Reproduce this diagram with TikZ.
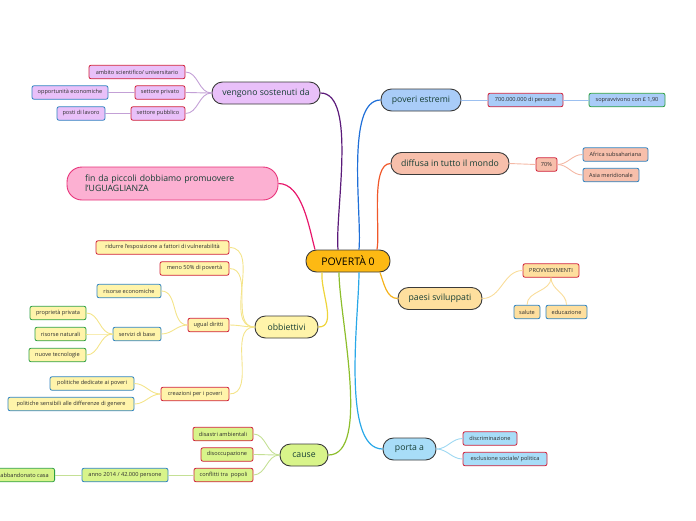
\documentclass[tikz,border=0pt]{standalone}
\usepackage{fontspec}
\setmainfont{Open Sans}
\usetikzlibrary{calc}
\definecolor{mainborder}{HTML}{3A3A3A}
\definecolor{maintext}{HTML}{173F35}
\definecolor{subtext}{HTML}{2E2E2E}
\definecolor{redb}{HTML}{D0213A}
\definecolor{blueb}{HTML}{2F83C0}
\definecolor{greenb}{HTML}{2EA043}
\definecolor{cfill}{HTML}{FDB913}
\definecolor{vfill}{HTML}{E9C0F9}
\definecolor{vline}{HTML}{5B1A7A}
\definecolor{vsub}{HTML}{C3A0D6}
\definecolor{pefill}{HTML}{A9CCF8}
\definecolor{peline}{HTML}{1F6FD8}
\definecolor{pesub}{HTML}{9CC0F0}
\definecolor{dfill}{HTML}{F7BFAB}
\definecolor{dline}{HTML}{F0582A}
\definecolor{dsub}{HTML}{F4B8A5}
\definecolor{ffill}{HTML}{FCB0D2}
\definecolor{fborder}{HTML}{E8337A}
\definecolor{fline}{HTML}{E8186C}
\definecolor{psfill}{HTML}{FEDF9E}
\definecolor{psline}{HTML}{F5B21B}
\definecolor{pssub}{HTML}{F9DD9A}
\definecolor{ofill}{HTML}{FFF4AA}
\definecolor{oline}{HTML}{EED43A}
\definecolor{osub}{HTML}{F4E48A}
\definecolor{cafill}{HTML}{D8F48A}
\definecolor{caline}{HTML}{8DBE2C}
\definecolor{casub}{HTML}{C4E095}
\definecolor{pafill}{HTML}{A8DDF8}
\definecolor{paline}{HTML}{29A8E8}
\definecolor{pasub}{HTML}{9ED8F2}
\tikzset{
  mainnode/.style={draw=mainborder, line width=0.9pt, rounded corners=10.5pt, minimum height=22pt, inner xsep=4pt, inner ysep=0pt, font=\fontsize{8.7}{10}\selectfont, text=maintext},
  subnode/.style={line width=0.8pt, rounded corners=2pt, minimum height=13.5pt, inner xsep=2pt, inner ysep=0pt, font=\fontsize{5.6}{6}\selectfont, text=subtext},
  rb/.style={draw=redb}, bb/.style={draw=blueb}, gb/.style={draw=greenb},
  mainline/.style={line width=1.2pt},
  subline/.style={line width=0.9pt},
}
\begin{document}
\begin{tikzpicture}[x=1pt,y=-1pt]
\useasboundingbox (0,0) rectangle (696,520);
\clip (0,0) rectangle (696,520);
% center
\node[mainnode, fill=cfill, text=black, minimum width=84pt, font=\fontsize{10.5}{12}\selectfont] (c) at (348,261) {POVERTÀ 0};
% main branches
\node[mainnode, fill=vfill, minimum width=108pt] (v) at (266,93) {vengono sostenuti da};
\node[mainnode, fill=pefill, minimum width=80pt] (pe) at (421,100) {poveri estremi};
\node[mainnode, fill=dfill, minimum width=118pt] (d) at (450,163.5) {diffusa in tutto il mondo};
\node[mainnode, draw=fborder, fill=ffill, rounded corners=15pt, minimum height=33pt, text width=175pt, align=left, inner xsep=18pt] (f) at (172.5,183.5) {fin da piccoli dobbiamo promuovere\\l'UGUAGLIANZA};
\node[mainnode, fill=psfill, minimum width=84pt] (ps) at (440,298.5) {paesi sviluppati};
\node[mainnode, fill=ofill, minimum width=63pt] (o) at (286.5,327) {obbiettivi};
\node[mainnode, fill=cafill, minimum width=48pt] (ca) at (304,455) {cause};
\node[mainnode, fill=pafill, minimum width=53pt] (pa) at (409.5,449) {porta a};
% main connectors
\draw[mainline, vline] (v.east) to[out=0,in=95,looseness=0.6] ([xshift=-10pt]c.north);
\draw[mainline, peline] (pe.west) to[out=180,in=85,looseness=0.6] ([xshift=11pt]c.north);
\draw[mainline, dline] (d.west) to[out=180,in=80,looseness=0.6] ([xshift=29pt]c.north);
\draw[mainline, fline] (f.east) to[out=0,in=105,looseness=0.8] ([xshift=-33pt]c.north);
\draw[mainline, psline] ([xshift=32pt]c.south) to[out=-70,in=180,looseness=0.9] (ps.west);
\draw[mainline, oline] ([xshift=-26pt]c.south) to[out=-95,in=0,looseness=0.9] (o.east);
\draw[mainline, caline] ([xshift=-9pt]c.south) to[out=-90,in=0,looseness=0.6] (ca.east);
\draw[mainline, paline] ([xshift=11pt]c.south) to[out=-90,in=180,looseness=0.6] (pa.west);
% vengono sostenuti da
\node[subnode, rb, fill=vfill, minimum width=96pt] (v1) at (137,72) {ambito scientifico/ universitario};
\node[subnode, rb, fill=vfill, minimum width=50pt] (v2) at (160,92.5) {settore privato};
\node[subnode, bb, fill=vfill, minimum width=76pt] (v21) at (70,92.5) {opportunità economiche};
\node[subnode, rb, fill=vfill, minimum width=54pt] (v3) at (158,113.5) {settore pubblico};
\node[subnode, bb, fill=vfill, minimum width=48pt] (v31) at (81,113.5) {posti di lavoro};
\foreach \n in {v1,v2,v3} \draw[subline, vsub] (v.west) to[out=180,in=0] (\n.east);
\draw[subline, vsub] (v2.west) -- (v21.east);
\draw[subline, vsub] (v3.west) -- (v31.east);
% poveri estremi
\node[subnode, rb, fill=pefill, minimum width=75pt] (pe1) at (525.5,100) {700.000.000 di persone};
\node[subnode, gb, fill=pefill, minimum width=76pt] (pe2) at (627,100) {sopravvivono con £ 1,90};
\draw[subline, pesub] (pe.east) -- (pe1.west);
\draw[subline, pesub] (pe1.east) -- (pe2.west);
% diffusa
\node[subnode, rb, fill=dfill, minimum width=21pt] (d1) at (546.5,164.5) {70\%};
\node[subnode, bb, fill=dfill, minimum width=65pt] (d2) at (615.5,154.5) {Africa subsahariana};
\node[subnode, bb, fill=dfill, minimum width=56pt] (d3) at (611,175) {Asia meridionale};
\draw[subline, dsub] (d.east) -- (d1.west);
\draw[subline, dsub] (d1.east) to[out=0,in=180] (d2.west);
\draw[subline, dsub] (d1.east) to[out=0,in=180] (d3.west);
% paesi sviluppati
\node[subnode, rb, fill=psfill, minimum width=56pt] (ps1) at (551,270.5) {PROVVEDIMENTI};
\node[subnode, bb, fill=psfill, minimum width=26pt] (ps2) at (527,312) {salute};
\node[subnode, bb, fill=psfill, minimum width=41pt] (ps3) at (566.5,312) {educazione};
\draw[subline, pssub] (ps.east) to[out=0,in=180] (ps1.west);
\draw[subline, pssub] (ps1.south) to[out=-90,in=90] (ps2.north);
\draw[subline, pssub] (ps1.south) to[out=-90,in=90] (ps3.north);
% obbiettivi
\node[subnode, rb, fill=ofill, minimum width=133pt] (o1) at (162.5,247.5) {ridurre l'esposizione a fattori di vulnerabilità};
\node[subnode, rb, fill=ofill, minimum width=69pt] (o2) at (194.5,268.5) {meno 50\% di povertà};
\node[subnode, rb, fill=ofill, minimum width=41pt] (o3) at (208.5,325) {ugual diritti};
\node[subnode, rb, fill=ofill, minimum width=68pt] (o4) at (195,394) {creazioni per i poveri};
\node[subnode, bb, fill=ofill, minimum width=64pt] (o31) at (129,291) {risorse economiche};
\node[subnode, bb, fill=ofill, minimum width=48pt] (o32) at (137,334) {servizi di base};
\node[subnode, gb, fill=ofill, minimum width=56pt] (o321) at (58,313) {proprietà privata};
\node[subnode, gb, fill=ofill, minimum width=51pt] (o322) at (60.5,334) {risorse naturali};
\node[subnode, gb, fill=ofill, minimum width=57pt] (o323) at (57.5,355) {nuove tecnologie};
\node[subnode, bb, fill=ofill, minimum width=84pt] (o41) at (92,383.5) {politiche dedicate ai poveri};
\node[subnode, bb, fill=ofill, minimum width=126pt] (o42) at (71,404) {politiche sensibili alle differenze di genere};
\foreach \n in {o1,o2,o3,o4} \draw[subline, osub] (o.west) to[out=180,in=0] (\n.east);
\foreach \n in {o31,o32} \draw[subline, osub] (o3.west) to[out=180,in=0] (\n.east);
\foreach \n in {o321,o322,o323} \draw[subline, osub] (o32.west) to[out=180,in=0] (\n.east);
\foreach \n in {o41,o42} \draw[subline, osub] (o4.west) to[out=180,in=0] (\n.east);
% cause
\node[subnode, rb, fill=cafill, minimum width=60pt] (ca1) at (223,434) {disastri ambientali};
\node[subnode, rb, fill=cafill, minimum width=52pt] (ca2) at (227,454.5) {disoccupazione};
\node[subnode, rb, fill=cafill, minimum width=59pt] (ca3) at (223.5,475) {conflitti tra~ popoli};
\node[subnode, bb, fill=cafill, minimum width=86pt] (ca31) at (125,475) {anno 2014 / 42.000 persone};
\node[subnode, gb, fill=cafill, minimum width=60pt, anchor=east] (ca311) at (55,475) {abbandonato casa};
\foreach \n in {ca1,ca2,ca3} \draw[subline, casub] (ca.west) to[out=180,in=0] (\n.east);
\draw[subline, casub] (ca3.west) -- (ca31.east);
\draw[subline, casub] (ca31.west) -- (ca311.east);
% porta a
\node[subnode, rb, fill=pafill, minimum width=54pt] (pa1) at (490,438.5) {discriminazione};
\node[subnode, rb, fill=pafill, minimum width=84pt] (pa2) at (505,459) {esclusione sociale/ politica};
\foreach \n in {pa1,pa2} \draw[subline, pasub] (pa.east) to[out=0,in=180] (\n.west);
\end{tikzpicture}
\end{document}
